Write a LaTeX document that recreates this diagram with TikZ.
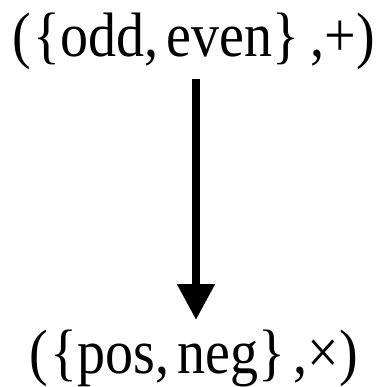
\documentclass[tikz,border=0pt]{standalone}
\usepackage{fontspec}
\setmainfont{Liberation Serif}
\usetikzlibrary{arrows.meta,positioning,calc}

\newcommand{\tallbox}[1]{\scalebox{1}[1.12]{#1}}

\begin{document}
\begin{tikzpicture}[
    x=1pt, y=-1pt,
    label/.style={inner sep=0pt, anchor=base, font=\fontsize{56}{62}\selectfont},
    arrow/.style={line width=8pt, -{Triangle[width=36pt,length=36pt]}}
]
\useasboundingbox (0,0) rectangle (379,387);

% Nodes
\node (odd) [label] at (193.5,57) {\tallbox{(\hspace{0.05em}\{odd,\hspace{0.15em}even\}\hspace{0.2em},+)}};
\node (pos) [label] at (193.5,373) {\tallbox{(\hspace{0.05em}\{pos,\hspace{0.15em}neg\}\hspace{0.15em},×)}};

% Arrow ends
\coordinate (start) at (196,79);
\coordinate (end) at (196,320);

% Arrows
\draw [arrow] (start) -- (end);

\end{tikzpicture}
\end{document}
